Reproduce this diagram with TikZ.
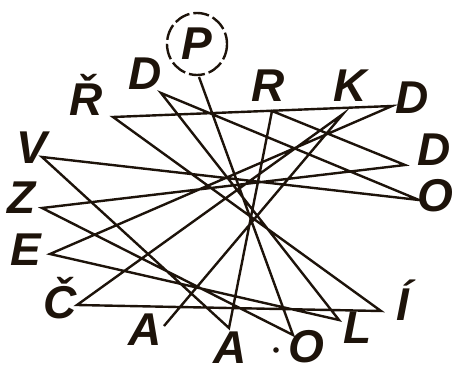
\documentclass[tikz,border=0pt]{standalone}
\usepackage{fontspec}
\setmainfont{Liberation Sans}
\usetikzlibrary{positioning}

\begin{document}
\begin{tikzpicture}[
    x=1pt, y=-1pt,
    letter/.style={inner sep=0pt, text=black!85!brown,
                   font=\bfseries\itshape\fontsize{46}{46}\selectfont},
    trail/.style={line width=2.4pt, draw=black!85!brown, line join=miter}
  ]
  \useasboundingbox (0,0) rectangle (454,374);

  % letters round the wheel
  \node[letter] (rCaron) at (86,95)  {Ř};
  \node[letter] (dTopL)  at (145,74) {D};
  \node[letter] (p)      at (197,44) {P};
  \node[letter] (r)      at (268,86) {R};
  \node[letter] (k)      at (350,86) {K};
  \node[letter] (dTopR)  at (412,98) {D};
  \node[letter] (dRight) at (434,150) {D};
  \node[letter] (oRight) at (435,196) {O};
  \node[letter] (v)      at (32,148) {V};
  \node[letter] (z)      at (22,198) {Z};
  \node[letter] (e)      at (26,250) {E};
  \node[letter] (cCaron) at (60,298) {Č};
  \node[letter] (aLeft)  at (145,330) {A};
  \node[letter] (aMid)   at (230,348) {A};
  \node[letter] (oBot)   at (306,347) {O};
  \node[letter] (l)      at (358,328) {L};
  \node[letter] (iAcute) at (403,300) {Í};

  % start mark and separator dot
  \draw[line width=2.4pt, draw=black!85!brown, dash pattern=on 16pt off 4pt]
    (p) ellipse (30 and 31);
  \fill[black!85!brown] (276,350) circle (2.8);

  % where the trail touches each letter
  \coordinate (pEnd)      at (199,77);
  \coordinate (oBotEnd)   at (293,335);
  \coordinate (zEnd)      at (42,208);
  \coordinate (dRightEnd) at (405,165);
  \coordinate (rEnd)      at (272,111);
  \coordinate (aMidEnd)   at (229,328);
  \coordinate (vEnd)      at (42,157);
  \coordinate (oRightEnd) at (419,200);
  \coordinate (dTopLEnd)  at (161,93);
  \coordinate (lEnd)      at (339,320);
  \coordinate (eEnd)      at (50,254);
  \coordinate (dTopREnd)  at (392,106);
  \coordinate (rCaronEnd) at (113,117);
  \coordinate (iAcuteEnd) at (381,311);
  \coordinate (cCaronEnd) at (77,305);
  \coordinate (kEnd)      at (343,114);
  \coordinate (aLeftEnd)  at (164,326);

  \draw[trail] (pEnd) -- (oBotEnd) -- (zEnd) -- (dRightEnd) -- (rEnd)
    -- (aMidEnd) -- (vEnd) -- (oRightEnd) -- (dTopLEnd) -- (lEnd)
    -- (eEnd) -- (dTopREnd) -- (rCaronEnd) -- (iAcuteEnd) -- (cCaronEnd)
    -- (kEnd) -- (aLeftEnd);
\end{tikzpicture}
\end{document}
